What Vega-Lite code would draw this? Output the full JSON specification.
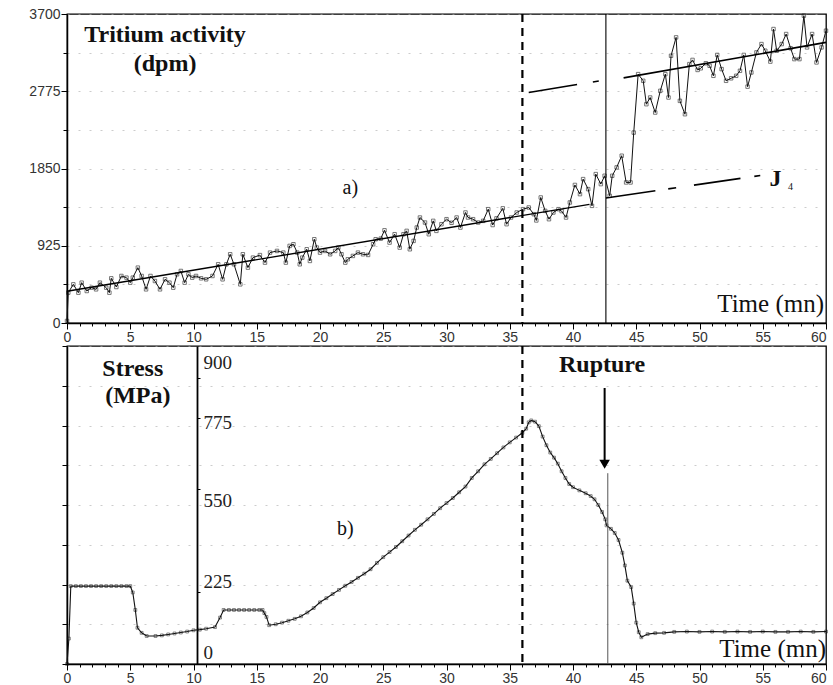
{
"$schema": "https://vega.github.io/schema/vega-lite/v6.json",
"padding": {"left": 28, "top": 6, "right": 4, "bottom": 4},
"background": "white",
"config": {"view": {"stroke": "black", "strokeWidth": 1.3}, "font": "Liberation Sans",
  "axis": {"domainColor": "black", "domainWidth": 1.5, "tickColor": "black", "labelColor": "#333", "labelFontSize": 14, "title": null, "labelOverlap": false, "labelSeparation": 0}},
"spacing": -1,
"datasets": {
"trit": [
{"t":0,"v":24},{"t":0.1,"v":363},{"t":0.5,"v":463},{"t":0.9,"v":363},{"t":1.16,"v":483},{"t":1.56,"v":383},{"t":1.95,"v":423},{"t":2.3,"v":403},{"t":2.6,"v":483},{"t":3.1,"v":423},{"t":3.35,"v":363},{"t":3.5,"v":535},{"t":3.9,"v":431},{"t":4.3,"v":563},{"t":4.7,"v":543},{"t":5.0,"v":483},{"t":5.2,"v":543},{"t":5.6,"v":663},{"t":5.9,"v":563},{"t":6.25,"v":403},{"t":6.6,"v":563},{"t":6.95,"v":503},{"t":7.35,"v":403},{"t":7.75,"v":523},{"t":8.1,"v":483},{"t":8.4,"v":423},{"t":8.7,"v":583},{"t":9.0,"v":623},{"t":9.3,"v":483},{"t":9.6,"v":583},{"t":9.9,"v":543},{"t":10.2,"v":563},{"t":10.6,"v":535},{"t":11.0,"v":523},{"t":11.5,"v":563},{"t":11.95,"v":703},{"t":12.3,"v":523},{"t":12.6,"v":703},{"t":12.9,"v":823},{"t":13.2,"v":703},{"t":13.7,"v":463},{"t":13.9,"v":823},{"t":14.3,"v":663},{"t":14.7,"v":783},{"t":15.25,"v":813},{"t":15.65,"v":723},{"t":16.05,"v":843},{"t":16.6,"v":863},{"t":17.1,"v":843},{"t":17.3,"v":723},{"t":17.6,"v":923},{"t":17.9,"v":943},{"t":18.2,"v":843},{"t":18.4,"v":703},{"t":18.6,"v":783},{"t":18.95,"v":883},{"t":19.2,"v":743},{"t":19.55,"v":1003},{"t":19.75,"v":903},{"t":20.0,"v":843},{"t":20.4,"v":863},{"t":20.8,"v":823},{"t":21.2,"v":863},{"t":21.45,"v":903},{"t":21.7,"v":823},{"t":22.0,"v":723},{"t":22.2,"v":763},{"t":22.6,"v":803},{"t":23.0,"v":843},{"t":23.4,"v":823},{"t":23.8,"v":815},{"t":24.2,"v":943},{"t":24.4,"v":1003},{"t":24.8,"v":1010},{"t":25.1,"v":1110},{"t":25.5,"v":963},{"t":25.9,"v":1063},{"t":26.3,"v":903},{"t":26.6,"v":1063},{"t":26.85,"v":1103},{"t":27.1,"v":883},{"t":27.4,"v":983},{"t":27.65,"v":1143},{"t":27.9,"v":1263},{"t":28.3,"v":1203},{"t":28.6,"v":1063},{"t":28.95,"v":1223},{"t":29.2,"v":1103},{"t":29.6,"v":1183},{"t":30.0,"v":1243},{"t":30.4,"v":1200},{"t":30.8,"v":1263},{"t":31.1,"v":1143},{"t":31.5,"v":1323},{"t":31.7,"v":1263},{"t":32.1,"v":1243},{"t":32.5,"v":1203},{"t":32.9,"v":1223},{"t":33.3,"v":1363},{"t":33.65,"v":1173},{"t":33.95,"v":1253},{"t":34.45,"v":1373},{"t":34.75,"v":1183},{"t":35.1,"v":1263},{"t":35.55,"v":1323},{"t":36.05,"v":1363},{"t":36.5,"v":1383},{"t":36.9,"v":1303},{"t":37.1,"v":1228},{"t":37.45,"v":1503},{"t":37.8,"v":1343},{"t":38.1,"v":1243},{"t":38.45,"v":1323},{"t":38.85,"v":1363},{"t":39.1,"v":1340},{"t":39.45,"v":1263},{"t":39.75,"v":1443},{"t":40.15,"v":1653},{"t":40.55,"v":1543},{"t":40.8,"v":1723},{"t":41.2,"v":1603},{"t":41.5,"v":1403},{"t":41.8,"v":1783},{"t":42.2,"v":1663},{"t":42.5,"v":1763},{"t":42.9,"v":1523},{"t":43.1,"v":1763},{"t":43.45,"v":1863},{"t":43.85,"v":2003},{"t":44.2,"v":1683},{"t":44.55,"v":1683},{"t":44.8,"v":2280},{"t":45.15,"v":2980},{"t":45.55,"v":2900},{"t":45.8,"v":2620},{"t":46.1,"v":2700},{"t":46.5,"v":2520},{"t":46.9,"v":2780},{"t":47.3,"v":2980},{"t":47.55,"v":2700},{"t":47.75,"v":3200},{"t":48.15,"v":3420},{"t":48.45,"v":2660},{"t":48.85,"v":2500},{"t":49.2,"v":3100},{"t":49.45,"v":3150},{"t":49.85,"v":3030},{"t":50.1,"v":3050},{"t":50.5,"v":3110},{"t":50.8,"v":3080},{"t":51.1,"v":2960},{"t":51.4,"v":3210},{"t":51.75,"v":3040},{"t":52.1,"v":2900},{"t":52.5,"v":2930},{"t":52.9,"v":2960},{"t":53.2,"v":3020},{"t":53.5,"v":3210},{"t":53.8,"v":2830},{"t":54.1,"v":3000},{"t":54.5,"v":3240},{"t":54.9,"v":3340},{"t":55.2,"v":3260},{"t":55.6,"v":3130},{"t":55.85,"v":3520},{"t":56.1,"v":3260},{"t":56.5,"v":3340},{"t":56.85,"v":3460},{"t":57.2,"v":3290},{"t":57.5,"v":3160},{"t":57.9,"v":3160},{"t":58.25,"v":3680},{"t":58.5,"v":3300},{"t":58.9,"v":3460},{"t":59.25,"v":3120},{"t":59.65,"v":3300},{"t":60.0,"v":3500}
],
"stress": [
{"t":0,"s":0},{"t":0.15,"s":80},{"t":0.3,"s":245},{"t":0.7,"s":245},{"t":1.1,"s":245},{"t":1.5,"s":245},{"t":1.9,"s":245},{"t":2.3,"s":245},{"t":2.7,"s":245},{"t":3.1,"s":245},{"t":3.5,"s":245},{"t":3.9,"s":245},{"t":4.3,"s":245},{"t":4.7,"s":245},{"t":5.0,"s":245},{"t":5.2,"s":225},{"t":5.4,"s":170},{"t":5.57,"s":114},{"t":5.9,"s":98},{"t":6.3,"s":88},{"t":7.0,"s":88},{"t":7.5,"s":90},{"t":8.0,"s":93},{"t":8.5,"s":96},{"t":9.0,"s":99},{"t":9.5,"s":102},{"t":10.0,"s":106},{"t":10.5,"s":108},{"t":11.0,"s":111},{"t":11.7,"s":116},{"t":12.1,"s":146},{"t":12.38,"s":170},{"t":12.8,"s":170},{"t":13.2,"s":170},{"t":13.6,"s":170},{"t":14.0,"s":170},{"t":14.4,"s":170},{"t":14.8,"s":170},{"t":15.2,"s":170},{"t":15.46,"s":170},{"t":15.6,"s":160},{"t":15.77,"s":148},{"t":15.98,"s":122},{"t":16.5,"s":125},{"t":17.0,"s":130},{"t":17.5,"s":136},{"t":18.0,"s":142},{"t":18.5,"s":150},{"t":19.0,"s":162},{"t":19.5,"s":176},{"t":20.0,"s":194},{"t":20.5,"s":207},{"t":21.0,"s":220},{"t":21.5,"s":233},{"t":22.0,"s":246},{"t":22.5,"s":258},{"t":23.0,"s":271},{"t":23.5,"s":284},{"t":24.0,"s":298},{"t":24.5,"s":318},{"t":25.0,"s":336},{"t":25.5,"s":352},{"t":26.0,"s":368},{"t":26.5,"s":386},{"t":27.0,"s":404},{"t":27.5,"s":422},{"t":28.0,"s":438},{"t":28.5,"s":455},{"t":29.0,"s":472},{"t":29.5,"s":490},{"t":30.0,"s":506},{"t":30.5,"s":522},{"t":31.0,"s":540},{"t":31.5,"s":558},{"t":32.0,"s":585},{"t":32.5,"s":606},{"t":33.0,"s":628},{"t":33.5,"s":645},{"t":34.0,"s":663},{"t":34.5,"s":681},{"t":35.0,"s":697},{"t":35.5,"s":712},{"t":36.0,"s":727},{"t":36.3,"s":740},{"t":36.5,"s":760},{"t":36.7,"s":766},{"t":37.0,"s":762},{"t":37.3,"s":748},{"t":37.6,"s":715},{"t":37.9,"s":688},{"t":38.2,"s":665},{"t":38.5,"s":649},{"t":38.8,"s":630},{"t":39.1,"s":606},{"t":39.4,"s":585},{"t":39.7,"s":566},{"t":40.0,"s":556},{"t":40.5,"s":546},{"t":41.0,"s":537},{"t":41.4,"s":528},{"t":41.7,"s":518},{"t":42.0,"s":500},{"t":42.3,"s":478},{"t":42.55,"s":455},{"t":42.65,"s":436},{"t":43.0,"s":425},{"t":43.3,"s":412},{"t":43.6,"s":390},{"t":43.9,"s":350},{"t":44.1,"s":310},{"t":44.3,"s":262},{"t":44.6,"s":242},{"t":44.8,"s":190},{"t":45.0,"s":130},{"t":45.2,"s":100},{"t":45.4,"s":84},{"t":45.9,"s":94},{"t":46.5,"s":97},{"t":47.2,"s":98},{"t":48.0,"s":101},{"t":49.0,"s":102},{"t":50.0,"s":101},{"t":51.0,"s":102},{"t":52.0,"s":101},{"t":53.0,"s":102},{"t":54.0,"s":101},{"t":55.0,"s":102},{"t":56.0,"s":101},{"t":57.0,"s":101},{"t":58.0,"s":102},{"t":59.0,"s":101},{"t":60.0,"s":102}
]
},
"vconcat": [
{
 "width": 759, "height": 309,
 "layer": [
  {"data": {"name": "trit"}, "mark": {"type": "line", "color": "#111", "strokeWidth": 1},
   "encoding": {
    "x": {"field": "t", "type": "quantitative", "scale": {"domain": [0, 60], "nice": false},
      "axis": {"values": [0,1,2,3,4,5,6,7,8,9,10,11,12,13,14,15,16,17,18,19,20,21,22,23,24,25,26,27,28,29,30,31,32,33,34,35,36,37,38,39,40,41,42,43,44,45,46,47,48,49,50,51,52,53,54,55,56,57,58,59,60], "tickCount": 200,
        "labelExpr": "datum.value % 5 === 0 ? format(datum.value, 'd') : ''", "labelOverlap": false, "labelBound": false,
        "labelAlign": {"condition": {"test": "datum.value === 60", "value": "right"}, "value": "center"},
        "tickSize": {"condition": {"test": "datum.value % 5 === 0", "value": 6}, "value": 3}, "grid": false, "labelFlush": false, "labelPadding": 1}},
    "y": {"field": "v", "type": "quantitative", "scale": {"domain": [0, 3700], "nice": false},
      "axis": {"values": [0,462.5,925,1387.5,1850,2312.5,2775,3237.5,3700], "tickCount": 200, "format": "d", "labelOverlap": false,
        "labelExpr": "datum.value % 925 === 0 ? datum.label : ''", "tickSize": {"condition": {"test": "datum.value % 925 === 0", "value": 6}, "value": 4},
        "grid": true, "gridColor": "#aaa", "gridDash": [2, 9], "gridOpacity": 0.6, "labelPadding": 1}}
   }},
  {"data": {"name": "trit"}, "mark": {"type": "point", "shape": "square", "size": 12, "filled": false, "stroke": "#111", "strokeWidth": 0.8},
   "encoding": {"x": {"field": "t", "type": "quantitative"}, "y": {"field": "v", "type": "quantitative"}}},
  {"data": {"values": [{"t": 0, "v": 380}, {"t": 41.3, "v": 1421}]}, "mark": {"type": "line", "color": "black", "strokeWidth": 1.4},
   "encoding": {"x": {"field": "t", "type": "quantitative"}, "y": {"field": "v", "type": "quantitative"}}},
  {"data": {"values": [{"t": 36.5, "v": 2760}, {"t": 42.3, "v": 2905}]}, "mark": {"type": "line", "color": "black", "strokeWidth": 1.6, "strokeDash": [49, 16, 6, 100]},
   "encoding": {"x": {"field": "t", "type": "quantitative"}, "y": {"field": "v", "type": "quantitative"}}},
  {"data": {"values": [{"t": 44, "v": 2935}, {"t": 60, "v": 3360}]}, "mark": {"type": "line", "color": "black", "strokeWidth": 1.6},
   "encoding": {"x": {"field": "t", "type": "quantitative"}, "y": {"field": "v", "type": "quantitative"}}},
  {"data": {"values": [{"t": 42.6, "v": 1497}, {"t": 55.6, "v": 1784}]}, "mark": {"type": "line", "color": "black", "strokeWidth": 1.6, "strokeDash": [50, 13, 8, 18, 47, 14, 6, 100]},
   "encoding": {"x": {"field": "t", "type": "quantitative"}, "y": {"field": "v", "type": "quantitative"}}},
  {"data": {"values": [{"t": 36}]}, "mark": {"type": "rule", "color": "black", "strokeWidth": 2.2, "strokeDash": [8, 6]},
   "encoding": {"x": {"field": "t", "type": "quantitative"}}},
  {"data": {"values": [{"t": 42.6}]}, "mark": {"type": "rule", "color": "black", "strokeWidth": 1.1},
   "encoding": {"x": {"field": "t", "type": "quantitative"}}},
  {"data": {"values": [{"t": 7.75, "v": 3450, "label": "Tritium activity"}, {"t": 7.75, "v": 3100, "label": "(dpm)"}, {"t": 56.0, "v": 1720, "label": "J"}]},
   "mark": {"type": "text", "font": "Liberation Serif", "fontWeight": "bold", "fontSize": 24, "align": "center", "baseline": "middle", "color": "#111"},
   "encoding": {"x": {"field": "t", "type": "quantitative"}, "y": {"field": "v", "type": "quantitative"}, "text": {"field": "label"}}},
  {"data": {"values": [{"t": 57.0, "v": 1630, "label": "4"}]},
   "mark": {"type": "text", "font": "Liberation Serif", "fontSize": 10, "align": "left", "baseline": "middle", "color": "#111"},
   "encoding": {"x": {"field": "t", "type": "quantitative"}, "y": {"field": "v", "type": "quantitative"}, "text": {"field": "label"}}},
  {"data": {"values": [{"t": 22.4, "v": 1620, "label": "a)"}]},
   "mark": {"type": "text", "font": "Liberation Serif", "fontSize": 20, "align": "center", "baseline": "middle", "color": "#111"},
   "encoding": {"x": {"field": "t", "type": "quantitative"}, "y": {"field": "v", "type": "quantitative"}, "text": {"field": "label"}}},
  {"data": {"values": [{"t": 60, "v": 230, "label": "Time   (mn)"}]},
   "mark": {"type": "text", "font": "Liberation Serif", "fontSize": 25, "align": "right", "baseline": "middle", "dx": -2, "color": "#111"},
   "encoding": {"x": {"field": "t", "type": "quantitative"}, "y": {"field": "v", "type": "quantitative"}, "text": {"field": "label"}}}
 ]
},
{
 "width": 759, "height": 318,
 "resolve": {"axis": {"y": "independent"}},
 "layer": [
  {"data": {"name": "stress"}, "mark": {"type": "line", "color": "#111", "strokeWidth": 1.1},
   "encoding": {
    "x": {"field": "t", "type": "quantitative", "scale": {"domain": [0, 60], "nice": false},
      "axis": {"values": [0,1,2,3,4,5,6,7,8,9,10,11,12,13,14,15,16,17,18,19,20,21,22,23,24,25,26,27,28,29,30,31,32,33,34,35,36,37,38,39,40,41,42,43,44,45,46,47,48,49,50,51,52,53,54,55,56,57,58,59,60], "tickCount": 200,
        "labelExpr": "datum.value % 5 === 0 ? format(datum.value, 'd') : ''", "labelOverlap": false, "labelBound": false,
        "labelAlign": {"condition": {"test": "datum.value === 60", "value": "right"}, "value": "center"},
        "tickSize": {"condition": {"test": "datum.value % 5 === 0", "value": 6}, "value": 3}, "grid": false, "labelFlush": false, "labelPadding": 1}},
    "y": {"field": "s", "type": "quantitative", "scale": {"domain": [0, 1000], "nice": false},
      "axis": {"values": [0,125,250,375,500,625,750,875,1000], "tickCount": 200, "labels": false, "tickSize": 5,
        "grid": true, "gridColor": "#aaa", "gridDash": [2, 9], "gridOpacity": 0.6}}
   }},
  {"data": {"name": "stress"}, "mark": {"type": "point", "shape": "square", "size": 8, "filled": false, "stroke": "#111", "strokeWidth": 0.7},
   "encoding": {"x": {"field": "t", "type": "quantitative"},
    "y": {"field": "s", "type": "quantitative",
      "axis": {"orient": "right", "offset": -629, "values": [0, 225, 550, 775, 900], "tickCount": 200, "labelOverlap": false, "labelFont": "Liberation Serif", "labelFontSize": 19, "labelColor": "#222", "tickSize": 3, "labelPadding": 3, "grid": false, "domainWidth": 1.8,
        "labelOffset": {"condition": [{"test": "datum.value === 0", "value": -12}, {"test": "datum.value === 225", "value": -11}, {"test": "datum.value === 550", "value": 11}, {"test": "datum.value === 775", "value": 5}], "value": -15}}}}},
  {"data": {"values": [{"t": 36}]}, "mark": {"type": "rule", "color": "black", "strokeWidth": 2.2, "strokeDash": [8, 6]},
   "encoding": {"x": {"field": "t", "type": "quantitative"}}},
  {"data": {"values": [{"t": 42.75, "s": 0, "s2": 600}]}, "mark": {"type": "rule", "color": "#555", "strokeWidth": 1},
   "encoding": {"x": {"field": "t", "type": "quantitative"}, "y": {"field": "s", "type": "quantitative", "axis": null}, "y2": {"field": "s2"}}},
  {"data": {"values": [{"t": 42.5, "s": 640, "s2": 868}]}, "mark": {"type": "rule", "color": "black", "strokeWidth": 2},
   "encoding": {"x": {"field": "t", "type": "quantitative"}, "y": {"field": "s", "type": "quantitative", "axis": null}, "y2": {"field": "s2"}}},
  {"data": {"values": [{"t": 42.5, "s": 628}]}, "mark": {"type": "point", "shape": "triangle-down", "size": 110, "filled": true, "color": "black", "opacity": 1},
   "encoding": {"x": {"field": "t", "type": "quantitative"}, "y": {"field": "s", "type": "quantitative", "axis": null}}},
  {"data": {"values": [{"t": 5.2, "s": 928, "label": "Stress"}, {"t": 5.6, "s": 843, "label": "(MPa)"}, {"t": 42.3, "s": 940, "label": "Rupture"}]},
   "mark": {"type": "text", "font": "Liberation Serif", "fontWeight": "bold", "fontSize": 24, "align": "center", "baseline": "middle", "color": "#111"},
   "encoding": {"x": {"field": "t", "type": "quantitative"}, "y": {"field": "s", "type": "quantitative", "axis": null}, "text": {"field": "label"}}},
  {"data": {"values": [{"t": 22.0, "s": 425, "label": "b)"}]},
   "mark": {"type": "text", "font": "Liberation Serif", "fontSize": 20, "align": "center", "baseline": "middle", "color": "#111"},
   "encoding": {"x": {"field": "t", "type": "quantitative"}, "y": {"field": "s", "type": "quantitative", "axis": null}, "text": {"field": "label"}}},
  {"data": {"values": [{"t": 60, "s": 47, "label": "Time   (mn)"}]},
   "mark": {"type": "text", "font": "Liberation Serif", "fontSize": 25, "align": "right", "baseline": "middle", "dx": 0, "color": "#111"},
   "encoding": {"x": {"field": "t", "type": "quantitative"}, "y": {"field": "s", "type": "quantitative", "axis": null}, "text": {"field": "label"}}}
 ]
}
]
}
